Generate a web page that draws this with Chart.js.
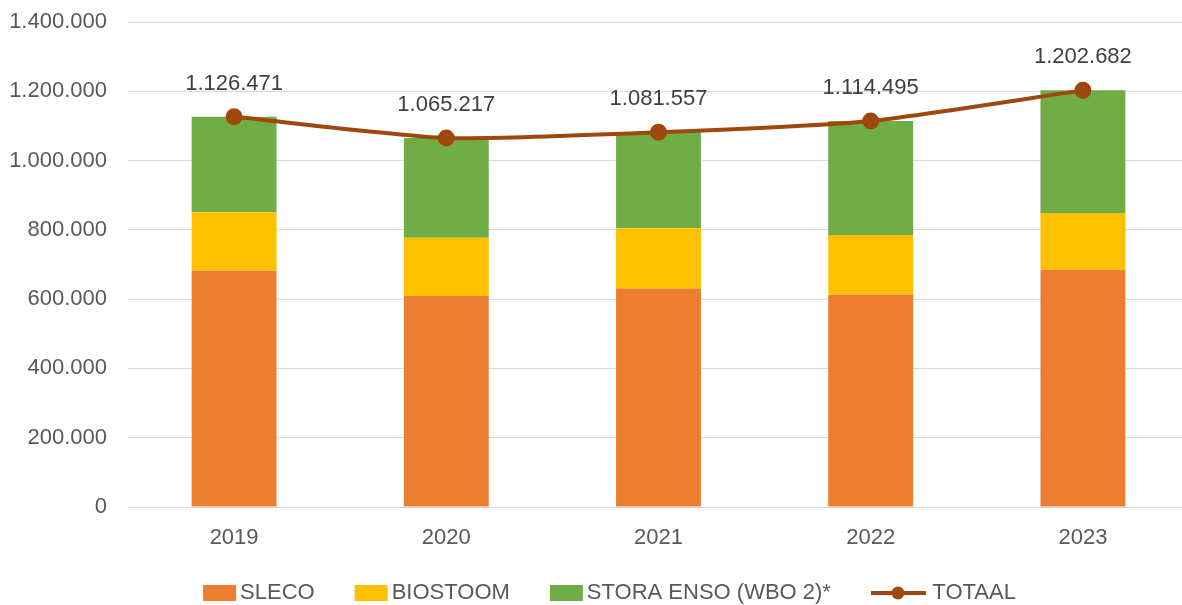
<!DOCTYPE html>
<html>
<head>
<meta charset="utf-8">
<script src="https://cdn.jsdelivr.net/npm/chart.js@4"></script>
<style>
html, body { margin: 0; padding: 0; background: #fff; overflow: hidden; }
#wrap { width: 1189px; height: 605px; }
</style>
</head>
<body>
<div id="wrap"><canvas id="chart1"></canvas></div>
<script>
var years = ["2019", "2020", "2021", "2022", "2023"];
var sleco = [682000, 609000, 631000, 613000, 685000];
var biostoom = [169000, 168000, 174000, 172000, 164000];
var totaal = [1126471, 1065217, 1081557, 1114495, 1202682];
var stora = [];
for (var i = 0; i < totaal.length; i++) {
  stora.push(totaal[i] - sleco[i] - biostoom[i]);
}
var yTicks = [0, 200000, 400000, 600000, 800000, 1000000, 1200000, 1400000];

function fmt(v) {
  return String(v).replace(/\B(?=(\d{3})+(?!\d))/g, ".");
}

// legend icons, padded so the visible part sits just left of the text
function boxIcon(color) {
  var c = document.createElement("canvas");
  c.width = 100; c.height = 16;
  var g = c.getContext("2d");
  g.fillStyle = color;
  g.fillRect(37, 0, 33, 16);
  return c;
}
function lineIcon(color) {
  var c = document.createElement("canvas");
  c.width = 100; c.height = 16;
  var g = c.getContext("2d");
  g.strokeStyle = color;
  g.lineWidth = 4;
  g.beginPath();
  g.moveTo(37, 8); g.lineTo(92, 8);
  g.stroke();
  g.fillStyle = color;
  g.beginPath();
  g.arc(64, 8, 6.5, 0, Math.PI * 2);
  g.fill();
  return c;
}

var icons = [boxIcon("#ED7D31"), boxIcon("#FFC000"), boxIcon("#70AD47"), lineIcon("#9E480E")];
var legendText = ["SLECO", "BIOSTOOM", "STORA ENSO (WBO 2)*", "    TOTAAL"];

var valueLabels = {
  id: "valueLabels",
  afterLayout: function (chart) {
    // legend row sits a bit right of centre in the original
    chart.legend.left = 30;
    chart.legend.top -= 3;
  },
  afterDatasetsDraw: function (chart) {
    var ctx = chart.ctx;
    var meta = chart.getDatasetMeta(3);
    ctx.save();
    ctx.font = "22px 'Liberation Sans'";
    ctx.fillStyle = "#404040";
    ctx.textAlign = "center";
    ctx.textBaseline = "middle";
    meta.data.forEach(function (pt, idx) {
      ctx.fillText(fmt(totaal[idx]), pt.x, pt.y - 33);
    });
    ctx.restore();
  }
};

Chart.defaults.font.family = "'Liberation Sans'";
Chart.defaults.font.size = 22;
Chart.defaults.color = "#595959";

var ctx = document.getElementById("chart1");
var chart = new Chart(ctx, {
  type: "bar",
  data: {
    labels: years,
    datasets: [{
      label: "SLECO",
      data: sleco,
      backgroundColor: "#ED7D31",
      stack: "s",
      order: 1
    }, {
      label: "BIOSTOOM",
      data: biostoom,
      backgroundColor: "#FFC000",
      stack: "s",
      order: 1
    }, {
      label: "STORA ENSO (WBO 2)*",
      data: stora,
      backgroundColor: "#70AD47",
      stack: "s",
      order: 1
    }, {
      type: "line",
      label: "TOTAAL",
      data: totaal,
      borderColor: "#9E480E",
      backgroundColor: "#9E480E",
      borderWidth: 4,
      pointRadius: 6.5,
      pointHoverRadius: 6.5,
      pointBackgroundColor: "#9E480E",
      pointBorderColor: "#9E480E",
      fill: false,
      tension: 0.2,
      stack: "t",
      order: 0
    }]
  },
  options: {
    responsive: true,
    maintainAspectRatio: false,
    animation: false,
    layout: {
      autoPadding: false,
      padding: { top: 22, right: 0, left: 0, bottom: 0 }
    },
    datasets: {
      bar: { barPercentage: 0.4, categoryPercentage: 1 }
    },
    scales: {
      x: {
        stacked: true,
        grid: { display: false, drawTicks: true, tickLength: 18 },
        border: { color: "#d9d9d9" },
        ticks: { padding: 0 },
        afterFit: function (axis) { axis.height = 38; }
      },
      y: {
        stacked: true,
        min: 0,
        max: 1400000,
        afterBuildTicks: function (axis) {
          axis.ticks = yTicks.map(function (v) { return { value: v }; });
        },
        afterFit: function (axis) { axis.width = 128; },
        grid: { color: "#d9d9d9", drawTicks: true, tickLength: 21, tickColor: "rgba(0,0,0,0)" },
        border: { display: false },
        ticks: {
          padding: 0,
          callback: function (v) { return fmt(v); }
        }
      }
    },
    plugins: {
      legend: {
        position: "bottom",
        maxHeight: 60,
        labels: {
          usePointStyle: true,
          pointStyleWidth: 26,
          padding: 40,
          generateLabels: function (chart) {
            return chart.data.datasets.map(function (ds, i) {
              return {
                text: legendText[i],
                pointStyle: icons[i],
                fontColor: "#595959",
                datasetIndex: i,
                lineWidth: 0
              };
            });
          }
        }
      },
      tooltip: { enabled: false }
    }
  },
  plugins: [valueLabels]
});
</script>
</body>
</html>
